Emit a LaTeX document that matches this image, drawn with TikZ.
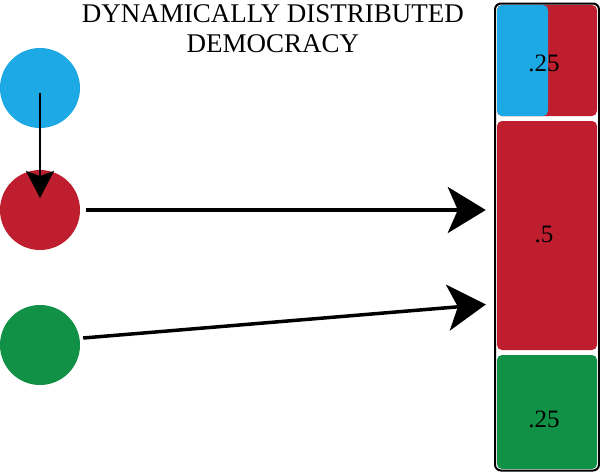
\documentclass[tikz,border=0pt]{standalone}
\usepackage{fontspec}
\setmainfont{Liberation Serif}
\usetikzlibrary{arrows.meta,calc}
\definecolor{cblue}{HTML}{1CA9E4}
\definecolor{cred}{HTML}{BE1E2D}
\definecolor{cgreen}{HTML}{109146}
\tikzset{
  dot/.style={circle,minimum size=80pt,inner sep=0pt,fill=#1},
  seg/.style={rectangle,rounded corners=5pt,inner sep=0pt,fill=#1},
  lab/.style={font=\fontsize{25}{27}\selectfont,inner sep=0pt},
  bigarrow/.style={line width=3.5pt,-{Stealth[length=38pt,width=46pt,inset=10pt]}},
  smallarrow/.style={line width=2.5pt,-{Stealth[length=27pt,width=28pt,inset=5pt]}}
}
\begin{document}
\begin{tikzpicture}[x=1pt,y=-1pt]
\useasboundingbox (0,0) rectangle (600,474);
% title
\node[align=center,font=\fontsize{27}{30}\selectfont,inner sep=0pt] (title) at (273,29)
  {DYNAMICALLY DISTRIBUTED\\DEMOCRACY};
% circles
\node[dot=cblue] (blue) at (40,88) {};
\node[dot=cred] (red) at (40,210) {};
\node[dot=cgreen] (green) at (40,345) {};
% bar
\node[rectangle,rounded corners=6pt,fill=white,draw=black,line width=2pt,
  minimum width=104pt,minimum height=467pt] (bar) at (547,237) {};
\node[seg=cred,minimum width=100pt,minimum height=111pt] (top) at (547,60.5) {};
\node[seg=cblue,minimum width=51pt,minimum height=111pt] (topblue) at (522.5,60.5) {};
\node[seg=cred,minimum width=100pt,minimum height=229pt] (mid) at (547,235.5) {};
\node[seg=cgreen,minimum width=100pt,minimum height=114pt] (bot) at (547,412) {};
\node[lab] (l1) at (544,63) {.25};
\node[lab] (l2) at (544,234) {.5};
\node[lab] (l3) at (544,419) {.25};
% arrows
\coordinate (gstart) at ($(green.east)+(3pt,7pt)$);
\coordinate (gend) at ($(mid.west)+(-11pt,-69pt)$);
\draw[smallarrow] ([yshift=-5pt]blue.center) -- ([yshift=12pt]red.center);
\draw[bigarrow,shorten <=6pt,shorten >=11pt] (red.east) -- (red.east -| mid.west);
\draw[bigarrow] (gstart) -- (gend);
\end{tikzpicture}
\end{document}
